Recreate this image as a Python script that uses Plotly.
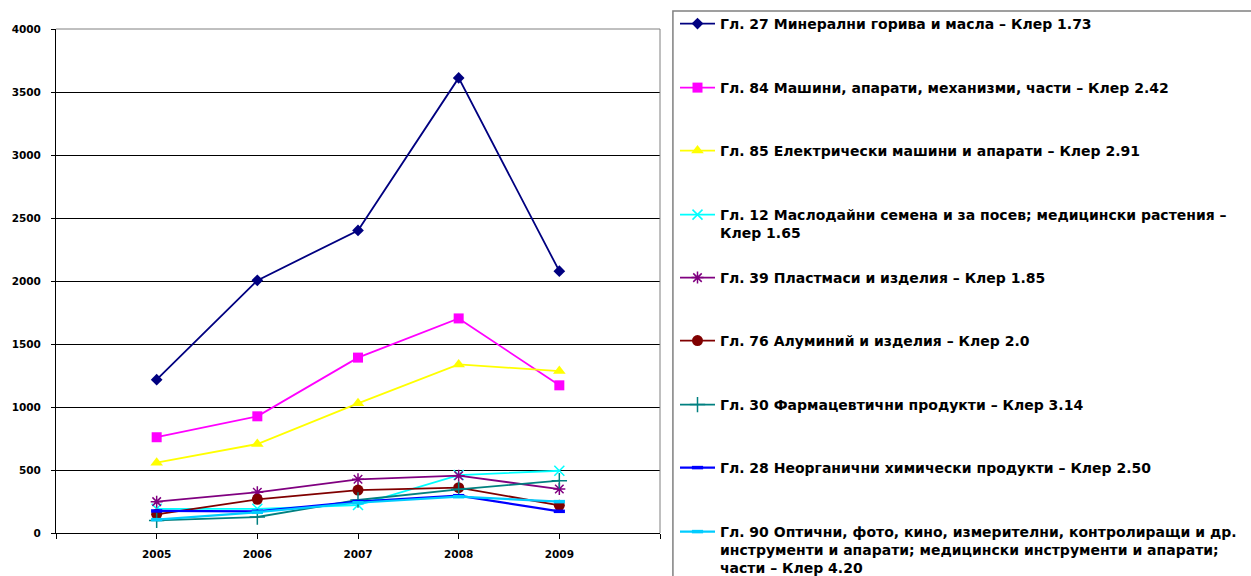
import plotly.graph_objects as go

years = [2005, 2006, 2007, 2008, 2009]
tick_years = [2004, 2005, 2006, 2007, 2008, 2009, 2010]
tick_text = ["", "2005", "2006", "2007", "2008", "2009", ""]

names = [
    "Гл. 27 Минерални горива и масла – Клер 1.73",
    "Гл. 84 Машини, апарати, механизми, части – Клер 2.42",
    "Гл. 85 Електрически машини и апарати – Клер 2.91",
    "Гл. 12 Маслодайни семена и за посев; медицински растения –<br>Клер 1.65",
    "Гл. 39 Пластмаси и изделия – Клер 1.85",
    "Гл. 76 Алуминий и изделия – Клер 2.0",
    "Гл. 30 Фармацевтични продукти – Клер 3.14",
    "Гл. 28 Неорганични химически продукти – Клер 2.50",
    "Гл. 90 Оптични, фото, кино, измерителни, контролиращи и др.<br>инструменти и апарати; медицински инструменти и апарати;<br>части – Клер 4.20",
]

gl27 = [1217, 2005, 2401, 3612, 2078]
gl84 = [760, 926, 1392, 1703, 1172]
gl85 = [558, 706, 1029, 1338, 1285]
gl12 = [192, 192, 222, 460, 494]
gl39 = [249, 323, 426, 455, 349]
gl76 = [148, 267, 341, 360, 220]
gl30 = [100, 127, 262, 347, 415]
gl28 = [175, 172, 250, 296, 172]
gl90 = [106, 165, 240, 288, 249]

series = [gl27, gl84, gl85, gl12, gl39, gl76, gl30, gl28, gl90]

colors = ["#000080", "#FF00FF", "#FFFF00", "#00FFFF", "#800080",
          "#800000", "#008080", "#0000FF", "#00CCFF"]
symbols = ["diamond", "square", "triangle-up", "x-thin-open", "asterisk-open",
           "circle", "cross-thin-open", "line-ew-open", "line-ew-open"]
msizes = [9, 10, 11, 10, 10, 11, 11, 8, 8]
mlw = [0, 0, 0, 1.5, 1.5, 0, 1.5, 3.5, 3.5]
lwidths = [1.8, 1.8, 1.8, 1.8, 1.8, 1.8, 1.8, 2.2, 2.2]

W, H = 1251, 576
legend_rows = [24, 88, 151, 215, 278, 341, 405, 468, 532]
legend_left = 675
row_off = 16

fig = go.Figure()
layout_legends = {}
for i, (nm, vals) in enumerate(zip(names, series)):
    lname = "legend" if i == 0 else f"legend{i+1}"
    fig.add_trace(go.Scatter(
        x=years, y=vals, name=nm, mode="lines+markers",
        line=dict(color=colors[i], width=lwidths[i]),
        marker=dict(symbol=symbols[i], size=msizes[i], color=colors[i],
                    line=dict(width=mlw[i], color=colors[i])),
        legend=lname,
    ))
    layout_legends[lname] = dict(
        x=legend_left / W, xref="container", xanchor="left",
        y=1 - (legend_rows[i] - row_off) / H, yref="container", yanchor="top",
        bgcolor="rgba(0,0,0,0)", borderwidth=0,
        font=dict(family="DejaVu Sans", size=14, color="black", weight="bold"),
        itemwidth=35, valign="top", tracegroupgap=0,
    )

fig.update_layout(
    width=W, height=H,
    margin=dict(l=52, r=W - 660, t=29, b=H - 533, pad=0),
    paper_bgcolor="white", plot_bgcolor="white",
    showlegend=True,
    **layout_legends,
)

fig.update_xaxes(
    range=[2004, 2010], tickmode="array", tickvals=tick_years, ticktext=tick_text,
    showgrid=False, zeroline=False, showline=True, linecolor="black", linewidth=1,
    ticks="outside", ticklen=5, tickcolor="black", tickwidth=1,
    tickfont=dict(family="DejaVu Sans", size=10.5, color="black", weight="bold"),
    ticklabelstandoff=6,
)
fig.update_yaxes(
    range=[0, 4000], tickmode="array", tickvals=list(range(0, 4001, 500)),
    showgrid=True, gridcolor="black", gridwidth=1, zeroline=False,
    showline=True, linecolor="black", linewidth=1,
    ticks="outside", ticklen=4, tickcolor="black", tickwidth=1,
    tickfont=dict(family="DejaVu Sans", size=10.5, color="black", weight="bold"),
    ticklabelstandoff=8,
)

# plot-area top/right border (grey) and legend frame
fig.add_shape(type="line", xref="paper", yref="paper", x0=0, x1=1, y0=1, y1=1,
              line=dict(color="#808080", width=1), layer="above")
fig.add_shape(type="line", xref="paper", yref="paper", x0=1, x1=1, y0=0, y1=1,
              line=dict(color="#808080", width=1), layer="above")
px_w = 660 - 52
px_h = 533 - 29
fig.add_shape(type="rect", xref="paper", yref="paper",
              x0=(673 - 52) / px_w, x1=(W + 20 - 52) / px_w,
              y0=(533 - (H + 20)) / px_h, y1=(533 - 11) / px_h,
              line=dict(color="#808080", width=1.5), fillcolor="rgba(0,0,0,0)",
              layer="above")

fig.write_html("out.html", config={"displayModeBar": False},
               post_script="document.body.style.margin='0';")
